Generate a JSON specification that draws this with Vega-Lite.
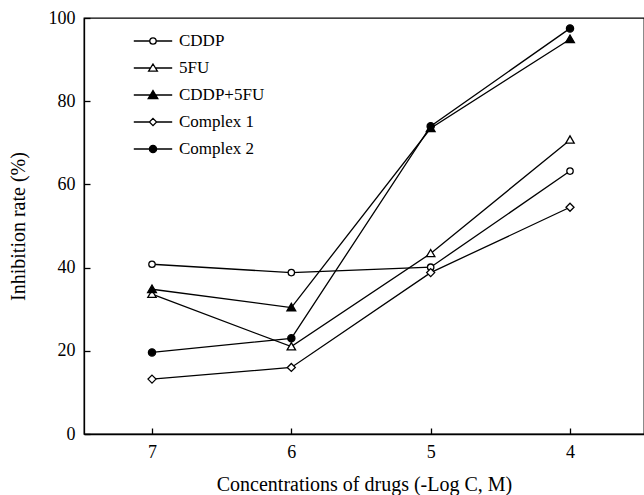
{
  "$schema": "https://vega.github.io/schema/vega-lite/v6.json",
  "width": 560,
  "height": 416,
  "autosize": {"type": "none"},
  "padding": {"left": 84, "top": 18, "right": 0, "bottom": 61},
  "background": "white",
  "params": [
    {"name": "legendShapes", "value": {
      "CDDP": "M-2.4,0L-0.4,0M0.4,0L2.4,0M-0.4,0A0.4,0.4,0,1,0,0.4,0A0.4,0.4,0,1,0,-0.4,0Z",
      "5FU": "M-2.4,0L-0.3,0M0.3,0L2.4,0M0,-0.5L0.55,0.4L-0.55,0.4Z",
      "CDDP+5FU": "M-2.4,0L2.4,0M0,-0.55L0.6,0.45L-0.6,0.45Z",
      "Complex 1": "M-2.4,0L-0.45,0M0.45,0L2.4,0M0,-0.45L0.45,0L0,0.45L-0.45,0Z",
      "Complex 2": "M-2.4,0L2.4,0M-0.45,0A0.45,0.45,0,1,0,0.45,0A0.45,0.45,0,1,0,-0.45,0Z"
    }}
  ],
  "config": {
    "view": {"stroke": "black", "strokeWidth": 1.3},
    "font": "Liberation Serif",
    "axis": {
      "grid": false,
      "domainColor": "black",
      "domainWidth": 1.3,
      "tickColor": "black",
      "tickWidth": 1.3,
      "labelColor": "black",
      "titleColor": "black",
      "labelFont": "Liberation Serif",
      "titleFont": "Liberation Serif",
      "titleFontWeight": "normal",
      "labelFontSize": 18,
      "titleFontSize": 20
    },
    "legend": {
      "title": null,
      "orient": "none",
      "legendX": 60,
      "legendY": 14,
      "padding": 0,
      "labelFont": "Liberation Serif",
      "labelFontSize": 17,
      "labelColor": "black",
      "labelOffset": 17,
      "rowPadding": 10,
      "symbolSize": 256,
      "symbolStrokeColor": "black"
    }
  },
  "data": {
    "values": [
      {"series": "CDDP", "logc": 7, "rate": 40.8},
      {"series": "CDDP", "logc": 6, "rate": 38.8},
      {"series": "CDDP", "logc": 5, "rate": 40.1},
      {"series": "CDDP", "logc": 4, "rate": 63.2},
      {"series": "5FU", "logc": 7, "rate": 33.6},
      {"series": "5FU", "logc": 6, "rate": 21.0},
      {"series": "5FU", "logc": 5, "rate": 43.4},
      {"series": "5FU", "logc": 4, "rate": 70.7},
      {"series": "CDDP+5FU", "logc": 7, "rate": 34.8},
      {"series": "CDDP+5FU", "logc": 6, "rate": 30.4},
      {"series": "CDDP+5FU", "logc": 5, "rate": 73.5},
      {"series": "CDDP+5FU", "logc": 4, "rate": 94.9},
      {"series": "Complex 1", "logc": 7, "rate": 13.2},
      {"series": "Complex 1", "logc": 6, "rate": 16.0},
      {"series": "Complex 1", "logc": 5, "rate": 38.8},
      {"series": "Complex 1", "logc": 4, "rate": 54.5},
      {"series": "Complex 2", "logc": 7, "rate": 19.6},
      {"series": "Complex 2", "logc": 6, "rate": 23.0},
      {"series": "Complex 2", "logc": 5, "rate": 74.0},
      {"series": "Complex 2", "logc": 4, "rate": 97.5}
    ]
  },
  "encoding": {
    "x": {
      "field": "logc",
      "type": "quantitative",
      "scale": {"domain": [3.469, 7.488], "reverse": true, "nice": false, "zero": false},
      "axis": {"values": [7, 6, 5, 4], "tickSize": -6, "labelPadding": 15, "title": "Concentrations of drugs (-Log C, M)", "titlePadding": 13}
    },
    "y": {
      "field": "rate",
      "type": "quantitative",
      "scale": {"domain": [0, 100], "nice": false},
      "axis": {"values": [0, 20, 40, 60, 80, 100], "tickSize": -6, "labelPadding": 15, "title": "Inhibition rate (%)", "titlePadding": 20}
    }
  },
  "layer": [
    {
      "mark": {"type": "line"},
      "encoding": {
        "detail": {"field": "series"},
        "stroke": {
          "field": "series",
          "type": "nominal",
          "scale": {"domain": ["CDDP", "5FU", "CDDP+5FU", "Complex 1", "Complex 2"], "range": ["black", "black", "black", "black", "black"]},
          "legend": {"symbolType": {"expr": "legendShapes[datum.value]"}}
        },
        "strokeWidth": {
          "field": "series",
          "type": "nominal",
          "scale": {"domain": ["CDDP", "5FU", "CDDP+5FU", "Complex 1", "Complex 2"], "range": [1.3, 1.3, 2.8, 1.3, 2.1]},
          "legend": {"symbolType": {"expr": "legendShapes[datum.value]"}}
        }
      }
    },
    {
      "mark": {"type": "point", "filled": true, "size": 64, "opacity": 1},
      "encoding": {
        "shape": {
          "condition": [
            {"test": "datum.series === 'CDDP'", "value": "M-0.8,0A0.8,0.8,0,1,0,0.8,0A0.8,0.8,0,1,0,-0.8,0Z"},
            {"test": "datum.series === '5FU'", "value": "M0,-1L1.05,0.8L-1.05,0.8Z"},
            {"test": "datum.series === 'CDDP+5FU'", "value": "M0,-1.05L1.1,0.85L-1.1,0.85Z"},
            {"test": "datum.series === 'Complex 1'", "value": "M0,-1L1,0L0,1L-1,0Z"}
          ],
          "value": "M-0.9,0A0.9,0.9,0,1,0,0.9,0A0.9,0.9,0,1,0,-0.9,0Z"
        },
        "stroke": {
          "field": "series",
          "type": "nominal",
          "scale": {"domain": ["CDDP", "5FU", "CDDP+5FU", "Complex 1", "Complex 2"], "range": ["black", "black", "black", "black", "black"]},
          "legend": {"symbolType": {"expr": "legendShapes[datum.value]"}}
        },
        "fill": {
          "field": "series",
          "type": "nominal",
          "scale": {"domain": ["CDDP", "5FU", "CDDP+5FU", "Complex 1", "Complex 2"], "range": ["white", "white", "black", "white", "black"]},
          "legend": {"symbolType": {"expr": "legendShapes[datum.value]"}}
        },
        "strokeWidth": {
          "field": "series",
          "type": "nominal",
          "scale": {"domain": ["CDDP", "5FU", "CDDP+5FU", "Complex 1", "Complex 2"], "range": [1.3, 1.3, 2.8, 1.3, 2.1]},
          "legend": {"symbolType": {"expr": "legendShapes[datum.value]"}}
        }
      }
    }
  ]
}
